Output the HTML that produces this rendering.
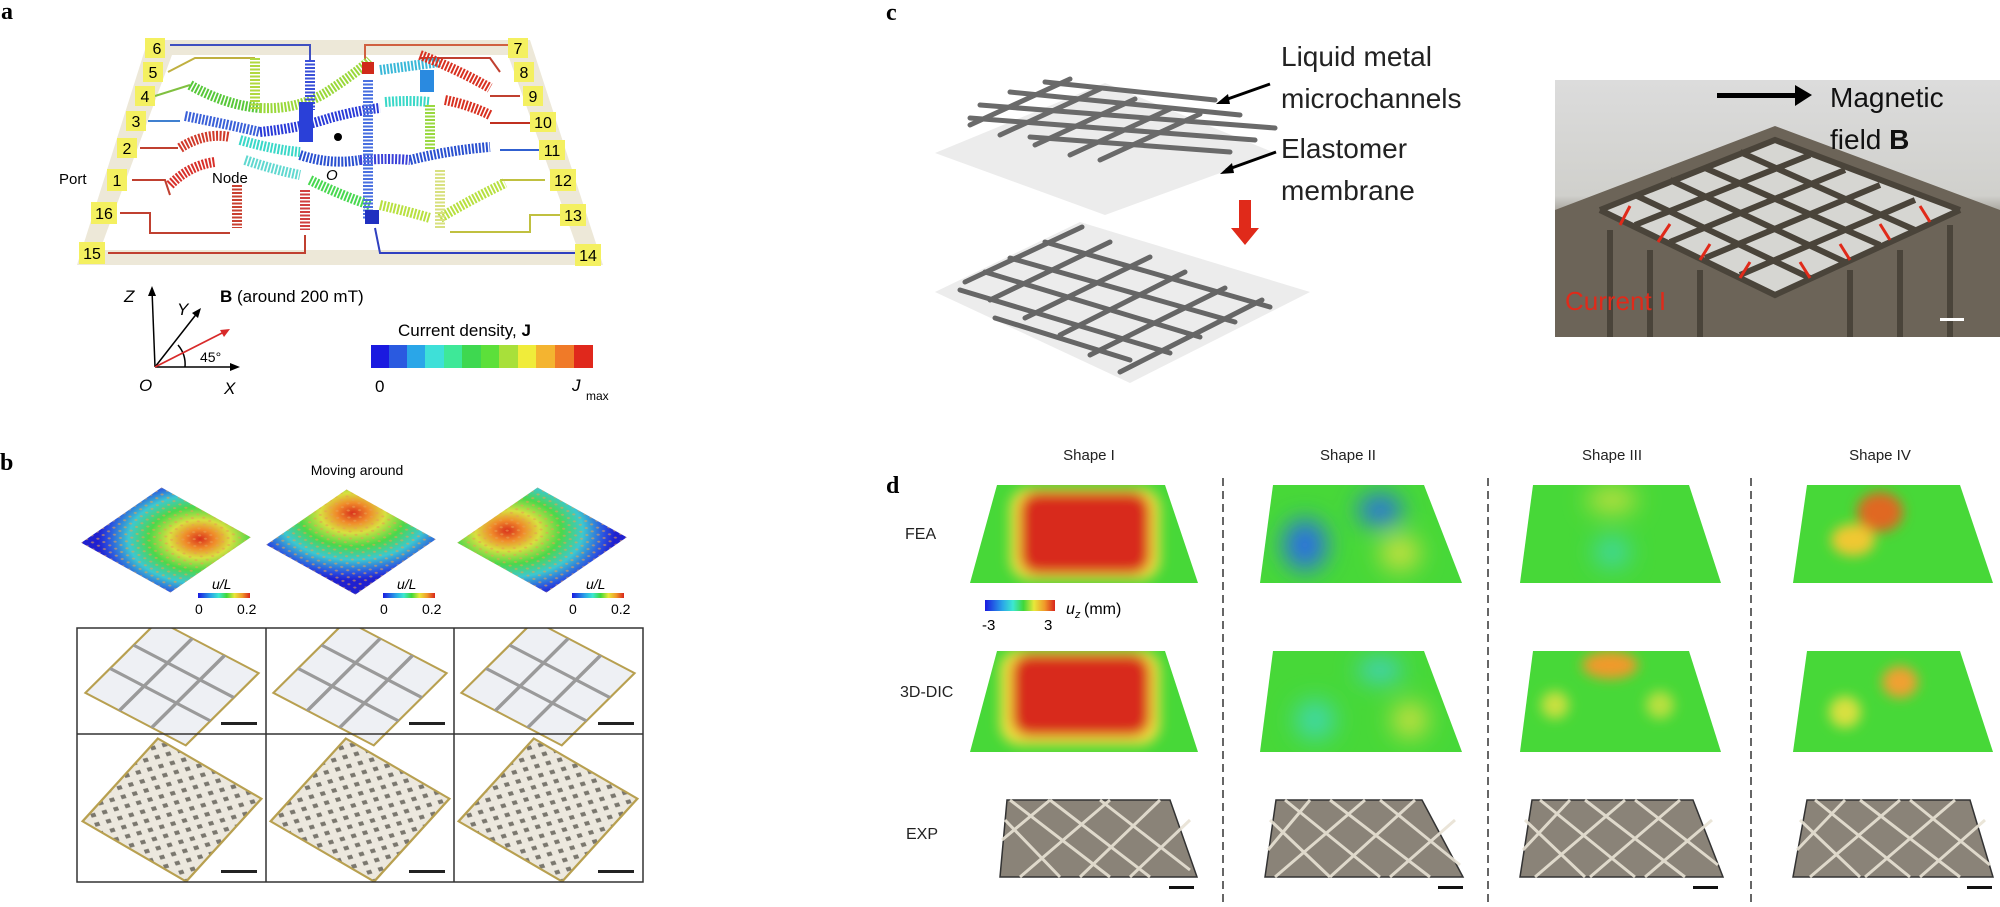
<!DOCTYPE html>
<html><head><meta charset="utf-8"><style>
html,body{margin:0;padding:0;background:#fff;}
svg{display:block;font-family:"Liberation Sans",Arial,sans-serif;}
</style></head><body>
<svg width="2000" height="907" viewBox="0 0 2000 907" xmlns="http://www.w3.org/2000/svg">
<defs>
 <filter id="bl" x="-50%" y="-50%" width="200%" height="200%"><feGaussianBlur stdDeviation="12"/></filter>
 <filter id="bl2" x="-50%" y="-50%" width="200%" height="200%"><feGaussianBlur stdDeviation="6"/></filter>
 <linearGradient id="jet" x1="0" x2="1">
  <stop offset="0" stop-color="#1a1ae0"/><stop offset="0.25" stop-color="#2aa6e8"/><stop offset="0.4" stop-color="#3de8d0"/>
  <stop offset="0.55" stop-color="#3fd83a"/><stop offset="0.7" stop-color="#e8e83a"/><stop offset="0.85" stop-color="#f09a2a"/><stop offset="1" stop-color="#d8241c"/>
 </linearGradient>
 <radialGradient id="hm1" cx="0.7" cy="0.3" r="0.85">
  <stop offset="0" stop-color="#d8301c"/><stop offset="0.15" stop-color="#f08a2a"/><stop offset="0.3" stop-color="#d8e040"/>
  <stop offset="0.5" stop-color="#4cd84a"/><stop offset="0.7" stop-color="#3cc8d0"/><stop offset="0.9" stop-color="#2a50e0"/><stop offset="1" stop-color="#2020d0"/>
 </radialGradient>
 <radialGradient id="hm2" cx="0.25" cy="0.2" r="0.9">
  <stop offset="0" stop-color="#d8301c"/><stop offset="0.15" stop-color="#f08a2a"/><stop offset="0.3" stop-color="#d8e040"/>
  <stop offset="0.5" stop-color="#4cd84a"/><stop offset="0.7" stop-color="#3cc8d0"/><stop offset="0.9" stop-color="#2a50e0"/><stop offset="1" stop-color="#2020d0"/>
 </radialGradient>
 <radialGradient id="hm3" cx="0.2" cy="0.6" r="0.9">
  <stop offset="0" stop-color="#d8301c"/><stop offset="0.15" stop-color="#f08a2a"/><stop offset="0.3" stop-color="#d8e040"/>
  <stop offset="0.5" stop-color="#4cd84a"/><stop offset="0.7" stop-color="#3cc8d0"/><stop offset="0.9" stop-color="#2a50e0"/><stop offset="1" stop-color="#2020d0"/>
 </radialGradient>
 <linearGradient id="photo" x1="0" y1="0" x2="0" y2="1">
  <stop offset="0" stop-color="#dcdcdc"/><stop offset="0.45" stop-color="#d0d0cc"/><stop offset="0.6" stop-color="#6e665a"/><stop offset="1" stop-color="#7a7262"/>
 </linearGradient>
 <clipPath id="t1"><polygon points="997,485 1165,485 1198,583 970,583"/></clipPath>
 <clipPath id="t2"><polygon points="1273,485 1424,485 1462,583 1260,583"/></clipPath>
 <clipPath id="t3"><polygon points="1533,485 1689,485 1721,583 1520,583"/></clipPath>
 <clipPath id="t4"><polygon points="1807,485 1960,485 1993,583 1793,583"/></clipPath>
 <clipPath id="u1"><polygon points="997,651 1165,651 1198,752 970,752"/></clipPath>
 <clipPath id="u2"><polygon points="1273,651 1424,651 1462,752 1260,752"/></clipPath>
 <clipPath id="u3"><polygon points="1533,651 1689,651 1721,752 1520,752"/></clipPath>
 <clipPath id="u4"><polygon points="1807,651 1960,651 1993,752 1793,752"/></clipPath>
 <clipPath id="gridclip"><rect x="77" y="628" width="566" height="254"/></clipPath>
 <pattern id="dots" width="12" height="12" patternUnits="userSpaceOnUse" patternTransform="rotate(35)">
  <rect width="12" height="12" fill="#ece8de"/><rect x="2" y="2" width="5" height="5" fill="#7a776e"/>
 </pattern>
 <pattern id="chk" width="8" height="8" patternUnits="userSpaceOnUse">
  <circle cx="4" cy="4" r="1.6" fill="#e8a050" opacity="0.6"/>
 </pattern>
</defs>

<!-- ===== Panel a ===== -->
<text x="1" y="19" font-size="24" font-weight="bold" font-family="Liberation Serif,serif">a</text>
<polygon points="148,40 530,40 603,265 77,265" fill="#ede8d8"/>
<polygon points="172,55 508,55 578,250 100,250" fill="#fff"/>
<g fill="none" stroke-width="2">
 <polyline points="170,45 310,45 310,60" stroke="#4050c0"/>
 <polyline points="365,60 365,45 510,45" stroke="#d06040"/>
 <polyline points="168,72 195,58 255,58" stroke="#c0b040"/>
 <polyline points="420,58 490,58 500,72" stroke="#c04030"/>
 <polyline points="155,96 190,85" stroke="#80c040"/>
 <polyline points="148,121 180,121" stroke="#4080d0"/>
 <polyline points="140,148 178,148" stroke="#c04030"/>
 <polyline points="132,180 165,180 170,195" stroke="#c04030"/>
 <polyline points="120,213 150,213 150,233 230,233" stroke="#c04030"/>
 <polyline points="108,253 305,253 305,235" stroke="#c04030"/>
 <polyline points="375,228 380,253 575,253" stroke="#3040c0"/>
 <polyline points="450,232 530,232 530,215 560,215" stroke="#c0c040"/>
 <polyline points="500,180 545,180" stroke="#c0c040"/>
 <polyline points="500,150 540,150" stroke="#3060d0"/>
 <polyline points="490,123 530,123" stroke="#c03020"/>
 <polyline points="490,96 520,96" stroke="#c04030"/>
</g>
<g fill="none" stroke-width="10" stroke-dasharray="2 1.5">
 <path d="M190,85 Q225,105 260,108" stroke="#58c83a"/>
 <path d="M260,108 Q300,110 330,90 Q360,70 370,60" stroke="#9ad83a"/>
 <path d="M185,116 Q230,125 260,132" stroke="#3a60d8"/>
 <path d="M260,132 Q300,128 330,118 Q360,110 380,108" stroke="#2a3ad8"/>
 <path d="M180,148 Q205,132 230,137" stroke="#d03a2a"/>
 <path d="M240,140 Q275,150 300,152" stroke="#3ad8c8"/>
 <path d="M300,155 Q330,165 360,160" stroke="#2a50d0"/>
 <path d="M360,160 Q390,158 410,160" stroke="#3a40d8"/>
 <path d="M410,160 Q450,150 490,147" stroke="#2a50d0"/>
 <path d="M170,185 Q190,165 215,162" stroke="#d8302a"/>
 <path d="M245,160 Q275,170 300,175" stroke="#60d8d0"/>
 <path d="M310,180 Q340,195 370,205" stroke="#48d850"/>
 <path d="M380,205 Q410,212 430,218" stroke="#b8e040"/>
 <path d="M440,218 Q470,200 505,183" stroke="#b8e040"/>
 <path d="M380,70 Q410,66 440,62" stroke="#3ab8d8"/>
 <path d="M420,55 Q455,68 490,88" stroke="#d83020"/>
 <path d="M385,102 Q410,100 430,102" stroke="#3ad8c8"/>
 <path d="M445,100 Q470,105 490,115" stroke="#d83020"/>
 <path d="M255,58 L255,110" stroke="#b0d840"/>
 <path d="M310,60 L310,110" stroke="#3a50d8"/>
 <path d="M368,80 L368,220" stroke="#4a70e0"/>
 <path d="M430,105 L430,150" stroke="#9ad840"/>
 <path d="M440,170 L440,228" stroke="#d8e080"/>
 <path d="M237,185 L237,228" stroke="#c84030"/>
 <path d="M305,190 L305,230" stroke="#d04040"/>
</g>
<rect x="299" y="102" width="14" height="40" fill="#2a40d8"/>
<rect x="362" y="62" width="12" height="12" fill="#d02a1a"/>
<rect x="420" y="70" width="14" height="22" fill="#2a8ae0"/>
<rect x="365" y="210" width="14" height="14" fill="#2030c0"/>
<circle cx="338" cy="137" r="4" fill="#000"/>
<text x="326" y="180" font-size="15" font-style="italic">O</text>
<text x="212" y="183" font-size="15">Node</text>
<text x="59" y="184" font-size="15">Port</text>
<g font-size="16" text-anchor="middle">
 <rect x="145" y="38" width="20" height="20" fill="#f4f060"/><text x="157" y="54">6</text>
 <rect x="508" y="38" width="20" height="20" fill="#f4f060"/><text x="518" y="54">7</text>
 <rect x="143" y="62" width="20" height="20" fill="#f4f060"/><text x="153" y="78">5</text>
 <rect x="514" y="62" width="20" height="20" fill="#f4f060"/><text x="524" y="78">8</text>
 <rect x="135" y="86" width="20" height="20" fill="#f4f060"/><text x="145" y="102">4</text>
 <rect x="523" y="86" width="20" height="20" fill="#f4f060"/><text x="533" y="102">9</text>
 <rect x="126" y="111" width="20" height="20" fill="#f4f060"/><text x="136" y="127">3</text>
 <rect x="530" y="112" width="26" height="20" fill="#f4f060"/><text x="543" y="128">10</text>
 <rect x="117" y="138" width="20" height="20" fill="#f4f060"/><text x="127" y="154">2</text>
 <rect x="539" y="140" width="26" height="20" fill="#f4f060"/><text x="552" y="156">11</text>
 <rect x="107" y="169" width="20" height="22" fill="#f4f060"/><text x="117" y="186">1</text>
 <rect x="550" y="169" width="26" height="22" fill="#f4f060"/><text x="563" y="186">12</text>
 <rect x="91" y="202" width="26" height="22" fill="#f4f060"/><text x="104" y="219">16</text>
 <rect x="560" y="204" width="26" height="22" fill="#f4f060"/><text x="573" y="221">13</text>
 <rect x="79" y="242" width="26" height="22" fill="#f4f060"/><text x="92" y="259">15</text>
 <rect x="575" y="244" width="26" height="22" fill="#f4f060"/><text x="588" y="261">14</text>
</g>
<g stroke="#000" stroke-width="1.5" fill="none">
 <line x1="155" y1="367" x2="152" y2="290"/><line x1="155" y1="367" x2="236" y2="367"/>
 <line x1="155" y1="367" x2="198" y2="312"/>
 <path d="M185,367 A30,30 0 0 0 178,345"/>
</g>
<line x1="155" y1="367" x2="226" y2="331" stroke="#d82a2a" stroke-width="1.8"/>
<polygon points="152,286 148,296 156,296" fill="#000"/>
<polygon points="240,367 230,363 230,371" fill="#000"/>
<polygon points="201,308 192,313 198,318" fill="#000"/>
<polygon points="230,329 220,330 224,337" fill="#d82a2a"/>
<g font-size="17">
 <text x="124" y="302" font-style="italic">Z</text><text x="177" y="315" font-style="italic">Y</text>
 <text x="139" y="391" font-style="italic">O</text><text x="224" y="394" font-style="italic">X</text>
 <text x="200" y="362" font-size="14">45°</text>
 <text x="220" y="302"><tspan font-weight="bold">B</tspan> (around 200 mT)</text>
 <text x="398" y="336">Current density, <tspan font-weight="bold">J</tspan></text>
 <text x="375" y="392">0</text>
 <text x="572" y="391" font-style="italic">J</text><text x="586" y="400" font-size="12">max</text>
</g>
<g>
 <rect x="371" y="345" width="19" height="23" fill="#1a1ae0"/><rect x="389" y="345" width="19" height="23" fill="#2a5ae0"/>
 <rect x="407" y="345" width="19" height="23" fill="#2aa6e8"/><rect x="425" y="345" width="19" height="23" fill="#3ee0d8"/>
 <rect x="444" y="345" width="19" height="23" fill="#3ee898"/><rect x="462" y="345" width="19" height="23" fill="#3ed850"/>
 <rect x="481" y="345" width="19" height="23" fill="#5ce03a"/><rect x="499" y="345" width="19" height="23" fill="#a8e03a"/>
 <rect x="518" y="345" width="19" height="23" fill="#f0ec3a"/><rect x="536" y="345" width="19" height="23" fill="#f4b430"/>
 <rect x="555" y="345" width="19" height="23" fill="#f07a28"/><rect x="574" y="345" width="19" height="23" fill="#e0281c"/>
</g>

<!-- ===== Panel b ===== -->
<text x="0" y="470" font-size="24" font-weight="bold" font-family="Liberation Serif,serif">b</text>
<text x="357" y="475" font-size="14" text-anchor="middle">Moving around</text>
<g transform="translate(166,540) scale(1,0.62) rotate(42)"><rect x="-60" y="-60" width="120" height="120" fill="url(#hm1)"/><rect x="-60" y="-60" width="120" height="120" fill="url(#chk)"/></g>
<g transform="translate(351,542) scale(1,0.62) rotate(42)"><rect x="-60" y="-60" width="120" height="120" fill="url(#hm2)"/><rect x="-60" y="-60" width="120" height="120" fill="url(#chk)"/></g>
<g transform="translate(542,540) scale(1,0.62) rotate(42)"><rect x="-60" y="-60" width="120" height="120" fill="url(#hm3)"/><rect x="-60" y="-60" width="120" height="120" fill="url(#chk)"/></g>
<g font-size="14">
 <rect x="198" y="593" width="52" height="5" fill="url(#jet)"/><text x="212" y="589" font-style="italic">u/L</text>
 <text x="195" y="614">0</text><text x="237" y="614">0.2</text>
 <rect x="383" y="593" width="52" height="5" fill="url(#jet)"/><text x="397" y="589" font-style="italic">u/L</text>
 <text x="380" y="614">0</text><text x="422" y="614">0.2</text>
 <rect x="572" y="593" width="52" height="5" fill="url(#jet)"/><text x="586" y="589" font-style="italic">u/L</text>
 <text x="569" y="614">0</text><text x="611" y="614">0.2</text>
</g>
<g clip-path="url(#gridclip)">
 <g transform="translate(172,683) scale(1,0.72) rotate(36)"><rect x="-62" y="-62" width="124" height="124" fill="#eef0f4" stroke="#b8a050" stroke-width="2.5"/><path d="M-62,-20 L62,-20 M-62,20 L62,20 M-20,-62 L-20,62 M20,-62 L20,62" stroke="#9a9a9a" stroke-width="4"/></g>
 <g transform="translate(360,683) scale(1,0.72) rotate(36)"><rect x="-62" y="-62" width="124" height="124" fill="#eef0f4" stroke="#b8a050" stroke-width="2.5"/><path d="M-62,-20 L62,-20 M-62,20 L62,20 M-20,-62 L-20,62 M20,-62 L20,62" stroke="#9a9a9a" stroke-width="4"/></g>
 <g transform="translate(548,683) scale(1,0.72) rotate(36)"><rect x="-62" y="-62" width="124" height="124" fill="#eef0f4" stroke="#b8a050" stroke-width="2.5"/><path d="M-62,-20 L62,-20 M-62,20 L62,20 M-20,-62 L-20,62 M20,-62 L20,62" stroke="#9a9a9a" stroke-width="4"/></g>
 <g transform="translate(172,810) scale(1,0.8) rotate(36)"><rect x="-64" y="-64" width="128" height="128" fill="url(#dots)" stroke="#b8a050" stroke-width="2.5"/></g>
 <g transform="translate(360,810) scale(1,0.8) rotate(36)"><rect x="-64" y="-64" width="128" height="128" fill="url(#dots)" stroke="#b8a050" stroke-width="2.5"/></g>
 <g transform="translate(548,810) scale(1,0.8) rotate(36)"><rect x="-64" y="-64" width="128" height="128" fill="url(#dots)" stroke="#b8a050" stroke-width="2.5"/></g>
</g>
<rect x="77" y="628" width="566" height="254" fill="none" stroke="#333" stroke-width="1.5"/>
<line x1="266" y1="628" x2="266" y2="882" stroke="#333" stroke-width="1.5"/>
<line x1="454" y1="628" x2="454" y2="882" stroke="#333" stroke-width="1.5"/>
<line x1="77" y1="734" x2="643" y2="734" stroke="#333" stroke-width="1.5"/>
<g fill="#222">
 <rect x="221" y="722" width="36" height="3"/><rect x="409" y="722" width="36" height="3"/><rect x="598" y="722" width="36" height="3"/>
 <rect x="221" y="870" width="36" height="3"/><rect x="409" y="870" width="36" height="3"/><rect x="598" y="870" width="36" height="3"/>
</g>

<!-- ===== Panel c ===== -->
<text x="886" y="20" font-size="24" font-weight="bold" font-family="Liberation Serif,serif">c</text>
<polygon points="935,153 1105,83 1275,153 1105,215" fill="#ececec"/>
<g stroke="#6a6a6a" stroke-width="5" stroke-linecap="round">
 <line x1="970" y1="125" x2="1070" y2="79"/><line x1="1000" y1="135" x2="1100" y2="89"/>
 <line x1="1035" y1="145" x2="1135" y2="99"/><line x1="1070" y1="155" x2="1170" y2="109"/>
 <line x1="1100" y1="160" x2="1200" y2="114"/>
 <line x1="980" y1="105" x2="1275" y2="128"/><line x1="1010" y1="92" x2="1240" y2="115"/>
 <line x1="1045" y1="82" x2="1215" y2="100"/><line x1="970" y1="118" x2="1255" y2="140"/>
 <line x1="1030" y1="137" x2="1230" y2="152"/>
</g>
<polygon points="935,292 1080,222 1310,292 1130,383" fill="#ececec"/>
<g stroke="#666" stroke-width="5" stroke-linecap="round">
 <line x1="965" y1="282" x2="1082" y2="227"/><line x1="990" y1="300" x2="1110" y2="242"/>
 <line x1="1025" y1="318" x2="1150" y2="257"/><line x1="1060" y1="335" x2="1185" y2="272"/>
 <line x1="1090" y1="355" x2="1225" y2="288"/><line x1="1120" y1="372" x2="1262" y2="300"/>
 <line x1="1045" y1="242" x2="1270" y2="307"/><line x1="1010" y1="258" x2="1235" y2="322"/>
 <line x1="985" y1="272" x2="1200" y2="337"/><line x1="960" y1="290" x2="1170" y2="353"/>
 <line x1="995" y1="318" x2="1130" y2="360"/>
</g>
<polygon points="1239,200 1251,200 1251,228 1259,228 1245,245 1231,228 1239,228" fill="#e02a1a"/>
<g stroke="#000" stroke-width="3"><line x1="1270" y1="84" x2="1222" y2="101"/><line x1="1276" y1="152" x2="1226" y2="170"/></g>
<polygon points="1216,104 1228,94 1230,104" fill="#000"/><polygon points="1220,174 1232,163 1234,173" fill="#000"/>
<g font-size="28" fill="#222">
 <text x="1281" y="66">Liquid metal</text><text x="1281" y="108">microchannels</text>
 <text x="1281" y="158">Elastomer</text><text x="1281" y="200">membrane</text>
</g>
<rect x="1555" y="80" width="445" height="257" fill="url(#photo)"/>
<polygon points="1555,210 1775,126 2000,210 2000,337 1555,337" fill="#6c6458"/>
<polygon points="1600,210 1775,140 1960,210 1775,295" fill="#d6d6d2"/>
<g stroke="#4a443a" stroke-width="6" fill="none">
 <path d="M1600,210 L1775,295 L1960,210 M1600,210 L1775,140 L1960,210"/>
 <path d="M1635,195 L1810,278 M1670,180 L1845,262 M1705,168 L1880,245 M1740,152 L1915,230"/>
 <path d="M1635,225 L1810,155 M1670,242 L1845,170 M1705,258 L1880,185 M1740,275 L1915,200"/>
 <path d="M1610,230 L1610,337 M1650,250 L1650,337 M1700,270 L1700,337 M1850,270 L1850,337 M1900,250 L1900,337 M1950,225 L1950,337"/>
</g>
<g stroke="#e02a1a" stroke-width="3">
 <line x1="1630" y1="206" x2="1620" y2="225"/><line x1="1670" y1="224" x2="1658" y2="242"/>
 <line x1="1710" y1="244" x2="1700" y2="260"/><line x1="1750" y1="262" x2="1740" y2="278"/>
 <line x1="1800" y1="262" x2="1810" y2="278"/><line x1="1840" y1="244" x2="1850" y2="260"/>
 <line x1="1880" y1="224" x2="1890" y2="240"/><line x1="1920" y1="206" x2="1930" y2="222"/>
</g>
<rect x="1717" y="93" width="78" height="5" fill="#000"/><polygon points="1795,85 1812,95 1795,106" fill="#000"/>
<text x="1830" y="107" font-size="28" fill="#111">Magnetic</text>
<text x="1830" y="149" font-size="28" fill="#111">field <tspan font-weight="bold">B</tspan></text>
<text x="1565" y="310" font-size="26" fill="#e02a1a">Current I</text>
<rect x="1940" y="318" width="24" height="3" fill="#fff"/>

<!-- ===== Panel d ===== -->
<text x="886" y="493" font-size="24" font-weight="bold" font-family="Liberation Serif,serif">d</text>
<g font-size="15" text-anchor="middle" fill="#222">
 <text x="1089" y="460">Shape I</text><text x="1348" y="460">Shape II</text>
 <text x="1612" y="460">Shape III</text><text x="1880" y="460">Shape IV</text>
</g>
<g font-size="16" fill="#222">
 <text x="905" y="539">FEA</text><text x="900" y="697">3D-DIC</text><text x="906" y="839">EXP</text>
</g>
<g stroke="#333" stroke-width="1.5" stroke-dasharray="8 5">
 <line x1="1223" y1="478" x2="1223" y2="907"/><line x1="1488" y1="478" x2="1488" y2="907"/><line x1="1751" y1="478" x2="1751" y2="907"/>
</g>
<g clip-path="url(#t1)"><rect x="960" y="480" width="250" height="110" fill="#47d838"/>
 <g filter="url(#bl2)"><rect x="1010" y="488" width="150" height="92" rx="20" fill="#f0e040"/><rect x="1020" y="492" width="130" height="82" rx="18" fill="#d82a1a"/></g></g>
<g clip-path="url(#t2)"><rect x="1250" y="480" width="220" height="110" fill="#47d838"/>
 <g filter="url(#bl)"><ellipse cx="1305" cy="545" rx="22" ry="26" fill="#2a70e0"/><ellipse cx="1380" cy="510" rx="22" ry="16" fill="#2a70e0"/><ellipse cx="1400" cy="553" rx="20" ry="18" fill="#c8e040"/></g></g>
<g clip-path="url(#t3)"><rect x="1510" y="480" width="220" height="110" fill="#47d838"/>
 <g filter="url(#bl)"><ellipse cx="1612" cy="500" rx="25" ry="12" fill="#c8e040"/><ellipse cx="1612" cy="552" rx="18" ry="16" fill="#40d8a0"/></g></g>
<g clip-path="url(#t4)"><rect x="1780" y="480" width="220" height="110" fill="#47d838"/>
 <g filter="url(#bl2)"><ellipse cx="1880" cy="512" rx="23" ry="20" fill="#e06820"/><ellipse cx="1853" cy="540" rx="22" ry="16" fill="#f0c830"/></g></g>
<rect x="985" y="600" width="70" height="11" fill="url(#jet)"/>
<text x="982" y="630" font-size="15">-3</text><text x="1044" y="630" font-size="15">3</text>
<text x="1066" y="614" font-size="16" font-style="italic">u</text><text x="1075" y="618" font-size="11" font-style="italic">z</text>
<text x="1084" y="614" font-size="16">(mm)</text>
<g clip-path="url(#u1)"><rect x="960" y="645" width="250" height="110" fill="#47d838"/>
 <g filter="url(#bl2)"><rect x="1000" y="650" width="160" height="95" rx="20" fill="#f0e040"/><rect x="1012" y="654" width="138" height="82" rx="18" fill="#d82a1a"/></g></g>
<g clip-path="url(#u2)"><rect x="1250" y="645" width="220" height="110" fill="#47d838"/>
 <g filter="url(#bl)"><ellipse cx="1380" cy="670" rx="22" ry="12" fill="#40d0c8"/><ellipse cx="1315" cy="720" rx="20" ry="20" fill="#40d8a8"/><ellipse cx="1410" cy="720" rx="18" ry="18" fill="#c8e040"/></g></g>
<g clip-path="url(#u3)"><rect x="1510" y="645" width="220" height="110" fill="#47d838"/>
 <g filter="url(#bl2)"><ellipse cx="1610" cy="665" rx="28" ry="14" fill="#f09a2a"/><ellipse cx="1555" cy="705" rx="14" ry="14" fill="#c8e040"/><ellipse cx="1660" cy="705" rx="14" ry="14" fill="#b8e040"/></g></g>
<g clip-path="url(#u4)"><rect x="1780" y="645" width="220" height="110" fill="#47d838"/>
 <g filter="url(#bl2)"><ellipse cx="1900" cy="682" rx="18" ry="16" fill="#f0a030"/><ellipse cx="1845" cy="712" rx="16" ry="16" fill="#d8e040"/></g></g>
<g>
 <polygon points="1007,800 1170,800 1197,877 1000,877" fill="#8a8378" stroke="#333" stroke-width="1.5"/>
 <polygon points="1276,800 1422,800 1463,877 1265,877" fill="#8a8378" stroke="#333" stroke-width="1.5"/>
 <polygon points="1532,800 1693,800 1723,877 1520,877" fill="#8a8378" stroke="#333" stroke-width="1.5"/>
 <polygon points="1807,800 1970,800 1993,877 1793,877" fill="#8a8378" stroke="#333" stroke-width="1.5"/>
</g>
<g stroke="#e8e2d4" stroke-width="3" fill="none" opacity="0.9">
 <path d="M1005,820 L1060,877 M1010,800 L1110,877 M1050,800 L1150,877 M1100,800 L1190,870 M1190,820 L1130,877 M1160,800 L1080,877 M1110,800 L1020,877 M1050,800 L1002,840"/>
 <path d="M1270,820 L1330,877 M1285,800 L1380,877 M1330,800 L1430,877 M1380,800 L1460,865 M1455,820 L1390,877 M1415,800 L1330,877 M1365,800 L1275,877 M1310,800 L1268,850"/>
 <path d="M1525,820 L1585,877 M1540,800 L1635,877 M1585,800 L1685,877 M1635,800 L1718,865 M1712,820 L1645,877 M1680,800 L1590,877 M1625,800 L1535,877 M1570,800 L1523,850"/>
 <path d="M1800,820 L1860,877 M1815,800 L1910,877 M1860,800 L1960,877 M1910,800 L1990,865 M1985,820 L1920,877 M1955,800 L1865,877 M1900,800 L1810,877 M1845,800 L1797,850"/>
</g>
<g fill="#111">
 <rect x="1169" y="886" width="25" height="3"/><rect x="1438" y="886" width="25" height="3"/>
 <rect x="1693" y="886" width="25" height="3"/><rect x="1967" y="886" width="25" height="3"/>
</g>
</svg>
</body></html>
